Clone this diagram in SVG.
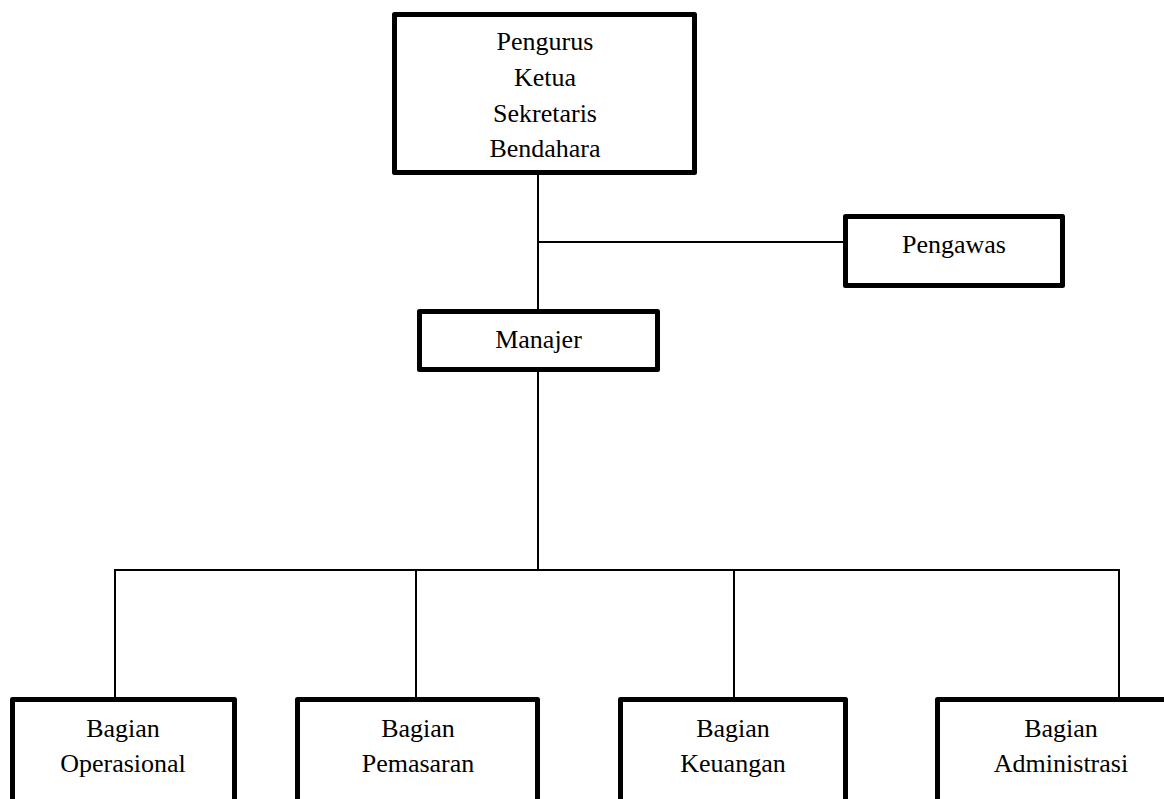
<svg xmlns="http://www.w3.org/2000/svg" width="1164" height="799" viewBox="0 0 1164 799">
<style>
.box{fill:#fff;stroke:#000;stroke-width:5;stroke-linejoin:round}
.ln{stroke:#000;stroke-width:2;fill:none}
text{font-family:"Liberation Serif","Times New Roman",serif;font-size:26px;fill:#000;text-anchor:middle}
</style>
<rect width="1164" height="799" fill="#fff"/>
<g id="connectors">
<line class="ln" x1="538" y1="175" x2="538" y2="310"/>
<line class="ln" x1="538" y1="242" x2="844" y2="242"/>
<line class="ln" x1="538" y1="372" x2="538" y2="570"/>
<line class="ln" x1="115" y1="570" x2="1119" y2="570"/>
<line class="ln" x1="115" y1="569" x2="115" y2="698"/>
<line class="ln" x1="416" y1="569" x2="416" y2="698"/>
<line class="ln" x1="734" y1="569" x2="734" y2="698"/>
<line class="ln" x1="1119" y1="569" x2="1119" y2="698"/>
</g>
<g id="pengurus">
<rect class="box" x="394.5" y="14.5" width="300" height="158"/>
<text x="545" y="50">Pengurus</text>
<text x="545" y="86">Ketua</text>
<text x="545" y="122">Sekretaris</text>
<text x="545" y="157">Bendahara</text>
</g>
<g id="pengawas">
<rect class="box" x="845.5" y="216.5" width="217" height="69"/>
<text x="954" y="253">Pengawas</text>
</g>
<g id="manajer">
<rect class="box" x="419.5" y="311.5" width="238" height="58"/>
<text x="538.5" y="348">Manajer</text>
</g>
<g id="operasional">
<rect class="box" x="12.5" y="699.5" width="222" height="120"/>
<text x="123" y="737">Bagian</text>
<text x="123" y="772">Operasional</text>
</g>
<g id="pemasaran">
<rect class="box" x="297.5" y="699.5" width="240" height="120"/>
<text x="418" y="737">Bagian</text>
<text x="418" y="772">Pemasaran</text>
</g>
<g id="keuangan">
<rect class="box" x="620.5" y="699.5" width="225" height="120"/>
<text x="733" y="737">Bagian</text>
<text x="733" y="772">Keuangan</text>
</g>
<g id="administrasi">
<rect class="box" x="937.5" y="699.5" width="247" height="120"/>
<text x="1061" y="737">Bagian</text>
<text x="1061" y="772">Administrasi</text>
</g>
</svg>
